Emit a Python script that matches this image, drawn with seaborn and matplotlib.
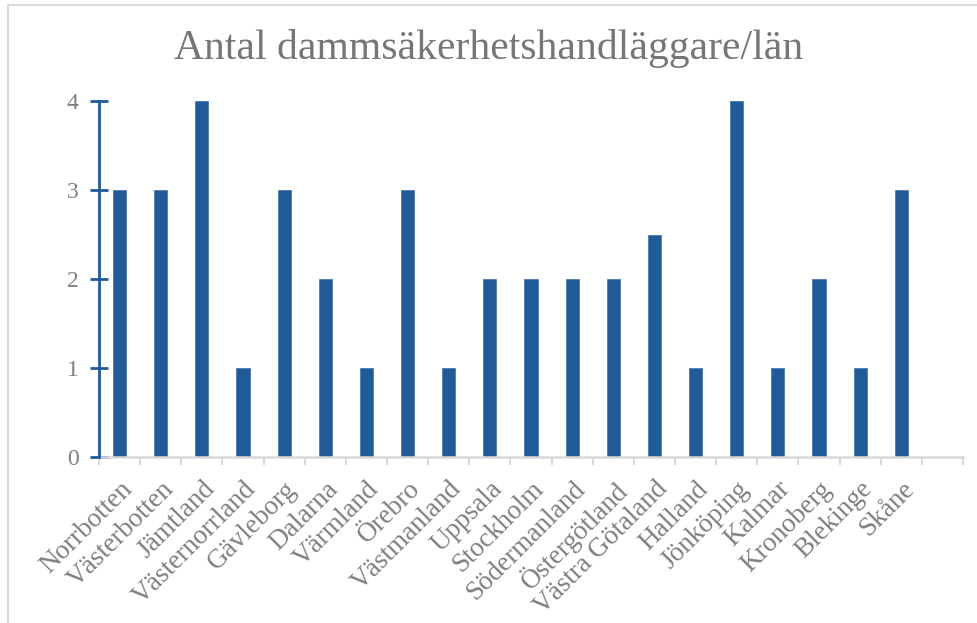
import matplotlib
matplotlib.use("Agg")
import matplotlib.pyplot as plt
import seaborn as sns
import numpy as np
import pandas as pd
from matplotlib.lines import Line2D

lan = ["Norrbotten", "Västerbotten", "Jämtland", "Västernorrland", "Gävleborg",
       "Dalarna", "Värmland", "Örebro", "Västmanland", "Uppsala", "Stockholm",
       "Södermanland", "Östergötland", "Västra Götaland", "Halland", "Jönköping",
       "Kalmar", "Kronoberg", "Blekinge", "Skåne"]
antal = [3, 3, 4, 1, 3, 2, 1, 3, 1, 2, 2, 2, 2, 2.5, 1, 4, 1, 2, 1, 3]
yticks = [0, 1, 2, 3, 4]
title = "Antal dammsäkerhetshandläggare/län"

sns.set_theme(style="white")
plt.rcParams["font.family"] = ["Liberation Serif", "DejaVu Serif"]

df = pd.DataFrame({"lan": lan, "antal": antal})

fig = plt.figure(figsize=(9.78, 6.23), dpi=100)
ax = fig.add_axes([99/978, 1-457/623, (963-99)/978, (457-101)/623])

bar_color = "#1f5a99"
sns.barplot(data=df, x="lan", y="antal", color=bar_color, width=0.32,
            saturation=1, ax=ax, edgecolor="#4a7ab5", linewidth=0.6)

n = len(lan) + 1
ax.set_xlim(-0.5, n - 0.5)
ax.set_ylim(0, 4)
ax.set_yticks(yticks)
ax.set_yticklabels([str(t) for t in yticks], color="#7f7f7f", fontsize=17)
ax.set_xlabel("")
ax.set_ylabel("")

ax.set_xticks(range(len(lan)))
ax.set_xticklabels(lan, rotation=45, ha="right", rotation_mode="anchor",
                   color="#7f7f7f", fontsize=19.5)
ax.tick_params(axis="x", which="major", length=0, pad=14, bottom=True)
ax.set_xticks(np.arange(-0.5, n, 1.0), minor=True)
ax.tick_params(axis="x", which="minor", length=6, width=1.5, color="#d9d9d9",
               direction="out", bottom=True)

for s in ["top", "right"]:
    ax.spines[s].set_visible(False)
ax.spines["bottom"].set_color("#d9d9d9")
ax.spines["bottom"].set_linewidth(1.8)
ax.spines["left"].set_color("#1f5a99")
ax.spines["left"].set_linewidth(2)
ax.spines["left"].set_zorder(5)
ax.tick_params(axis="y", which="major", direction="inout", length=13, width=2,
               color="#1f5a99", pad=8, left=True)
ax.grid(False)

fig.text(0.5, 1-49/623, title, ha="center", va="center", color="#767676",
         fontsize=30)

# chart border
fig.add_artist(Line2D([8/978, 1], [1-5/623, 1-5/623], color="#d9d9d9", lw=1.5,
                      transform=fig.transFigure))
fig.add_artist(Line2D([8/978, 8/978], [0, 1-5/623], color="#d9d9d9", lw=1.5,
                      transform=fig.transFigure))

fig.savefig("out.png", dpi=100, facecolor="white")
